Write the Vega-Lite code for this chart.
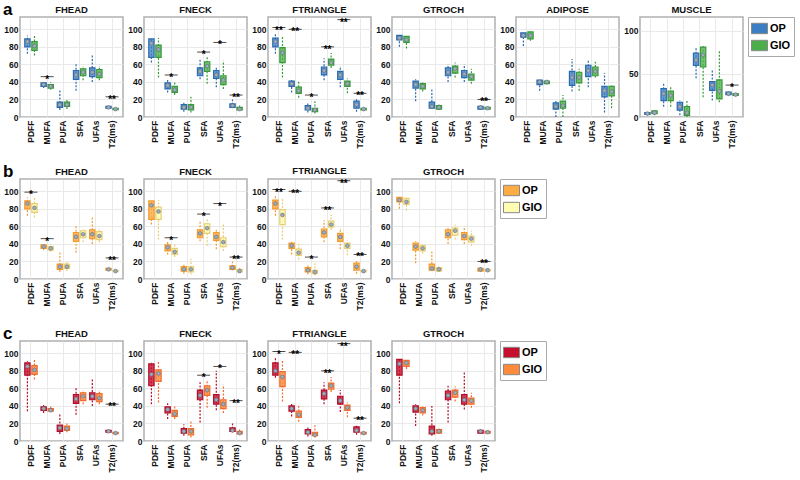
{
"$schema": "https://vega.github.io/schema/vega-lite/v6.json",
"padding": {"left": 3, "top": 0, "right": 0, "bottom": 0},
"background": "white",
"config": {
  "font": "Liberation Sans",
  "view": {"stroke": "#b0b0b0", "strokeWidth": 1.5},
  "title": {"fontSize": 9.5, "fontWeight": "bold", "offset": 3, "color": "#111"},
  "axis": {"labelFontSize": 8.5, "labelFontWeight": "bold", "labelColor": "#111", "ticks": false, "domain": false, "grid": true, "gridColor": "#e3e3e3", "gridWidth": 0.8, "labelPadding": 2},
  "axisX": {"labelAngle": -90, "labelPadding": 3},
  "legend": {"symbolType": "M-1,-0.65H1V0.65H-1Z", "symbolSize": 256, "symbolStrokeColor": "#888", "symbolStrokeWidth": 1, "symbolOpacity": 1, "labelFontSize": 11, "labelFontWeight": "bold", "labelColor": "#000", "strokeColor": "#aaa", "padding": 3, "rowPadding": 1, "offset": 4, "labelOffset": 2}
},
"datasets": {
"a": [
{"p":"FHEAD","c":"PDFF","g":"OP","lo":72,"q1":80,"md":86,"q3":89,"hi":93},
{"p":"FHEAD","c":"PDFF","g":"GIO","lo":70,"q1":76,"md":81,"q3":86,"hi":93},
{"p":"FHEAD","c":"MUFA","g":"OP","lo":33,"q1":35,"md":37,"q3":39,"hi":41},
{"p":"FHEAD","c":"MUFA","g":"GIO","lo":31,"q1":33,"md":35,"q3":37,"hi":40},
{"p":"FHEAD","c":"PUFA","g":"OP","lo":8,"q1":11,"md":14,"q3":17,"hi":31},
{"p":"FHEAD","c":"PUFA","g":"GIO","lo":9,"q1":12,"md":14,"q3":17,"hi":20},
{"p":"FHEAD","c":"SFA","g":"OP","lo":30,"q1":43,"md":48,"q3":53,"hi":60},
{"p":"FHEAD","c":"SFA","g":"GIO","lo":42,"q1":47,"md":51,"q3":55,"hi":58},
{"p":"FHEAD","c":"UFAs","g":"OP","lo":40,"q1":46,"md":51,"q3":56,"hi":70},
{"p":"FHEAD","c":"UFAs","g":"GIO","lo":42,"q1":45,"md":49,"q3":54,"hi":58},
{"p":"FHEAD","c":"T2(ms)","g":"OP","lo":9,"q1":10,"md":11,"q3":12,"hi":13},
{"p":"FHEAD","c":"T2(ms)","g":"GIO","lo":8,"q1":8.5,"md":9,"q3":10,"hi":10.5},
{"p":"FNECK","c":"PDFF","g":"OP","lo":62,"q1":68,"md":84,"q3":89,"hi":90},
{"p":"FNECK","c":"PDFF","g":"GIO","lo":45,"q1":68,"md":77,"q3":82,"hi":90},
{"p":"FNECK","c":"MUFA","g":"OP","lo":28,"q1":32,"md":36,"q3":39,"hi":43},
{"p":"FNECK","c":"MUFA","g":"GIO","lo":25,"q1":28,"md":31,"q3":35,"hi":41},
{"p":"FNECK","c":"PUFA","g":"OP","lo":6,"q1":9,"md":11,"q3":14,"hi":17},
{"p":"FNECK","c":"PUFA","g":"GIO","lo":5,"q1":8,"md":11,"q3":14,"hi":23},
{"p":"FNECK","c":"SFA","g":"OP","lo":43,"q1":47,"md":52,"q3":56,"hi":67},
{"p":"FNECK","c":"SFA","g":"GIO","lo":38,"q1":52,"md":58,"q3":63,"hi":68},
{"p":"FNECK","c":"UFAs","g":"OP","lo":34,"q1":44,"md":48,"q3":53,"hi":57},
{"p":"FNECK","c":"UFAs","g":"GIO","lo":32,"q1":37,"md":42,"q3":47,"hi":64},
{"p":"FNECK","c":"T2(ms)","g":"OP","lo":10,"q1":11,"md":13,"q3":15,"hi":20},
{"p":"FNECK","c":"T2(ms)","g":"GIO","lo":7,"q1":8,"md":9,"q3":11,"hi":13},
{"p":"FTRIANGLE","c":"PDFF","g":"OP","lo":72,"q1":80,"md":86,"q3":90,"hi":95},
{"p":"FTRIANGLE","c":"PDFF","g":"GIO","lo":45,"q1":62,"md":73,"q3":79,"hi":93},
{"p":"FTRIANGLE","c":"MUFA","g":"OP","lo":28,"q1":35,"md":38,"q3":41,"hi":43},
{"p":"FTRIANGLE","c":"MUFA","g":"GIO","lo":22,"q1":27,"md":30,"q3":34,"hi":41},
{"p":"FTRIANGLE","c":"PUFA","g":"OP","lo":5,"q1":8,"md":10,"q3":13,"hi":16},
{"p":"FTRIANGLE","c":"PUFA","g":"GIO","lo":4,"q1":6,"md":8,"q3":10,"hi":18},
{"p":"FTRIANGLE","c":"SFA","g":"OP","lo":42,"q1":48,"md":53,"q3":57,"hi":67},
{"p":"FTRIANGLE","c":"SFA","g":"GIO","lo":56,"q1":59,"md":62,"q3":66,"hi":73},
{"p":"FTRIANGLE","c":"UFAs","g":"OP","lo":34,"q1":43,"md":48,"q3":52,"hi":58},
{"p":"FTRIANGLE","c":"UFAs","g":"GIO","lo":27,"q1":35,"md":38,"q3":41,"hi":44},
{"p":"FTRIANGLE","c":"T2(ms)","g":"OP","lo":6,"q1":10,"md":14,"q3":18,"hi":21},
{"p":"FTRIANGLE","c":"T2(ms)","g":"GIO","lo":7,"q1":8,"md":9,"q3":10,"hi":10.5},
{"p":"GTROCH","c":"PDFF","g":"OP","lo":80,"q1":88,"md":90,"q3":93,"hi":93.5},
{"p":"GTROCH","c":"PDFF","g":"GIO","lo":78,"q1":85,"md":88,"q3":92,"hi":92.5},
{"p":"GTROCH","c":"MUFA","g":"OP","lo":18,"q1":33,"md":37,"q3":41,"hi":43},
{"p":"GTROCH","c":"MUFA","g":"GIO","lo":29,"q1":32,"md":35,"q3":38,"hi":41},
{"p":"GTROCH","c":"PUFA","g":"OP","lo":9,"q1":10,"md":12,"q3":17,"hi":32},
{"p":"GTROCH","c":"PUFA","g":"GIO","lo":8,"q1":9,"md":11,"q3":13,"hi":16},
{"p":"GTROCH","c":"SFA","g":"OP","lo":40,"q1":47,"md":51,"q3":56,"hi":60},
{"p":"GTROCH","c":"SFA","g":"GIO","lo":45,"q1":50,"md":55,"q3":58,"hi":62},
{"p":"GTROCH","c":"UFAs","g":"OP","lo":40,"q1":45,"md":49,"q3":53,"hi":60},
{"p":"GTROCH","c":"UFAs","g":"GIO","lo":38,"q1":42,"md":46,"q3":49,"hi":55},
{"p":"GTROCH","c":"T2(ms)","g":"OP","lo":8,"q1":9,"md":11,"q3":12,"hi":13},
{"p":"GTROCH","c":"T2(ms)","g":"GIO","lo":8,"q1":9,"md":10,"q3":11,"hi":11.5},
{"p":"ADIPOSE","c":"PDFF","g":"OP","lo":81,"q1":91,"md":93,"q3":96,"hi":96.5},
{"p":"ADIPOSE","c":"PDFF","g":"GIO","lo":87,"q1":89,"md":93,"q3":97,"hi":98},
{"p":"ADIPOSE","c":"MUFA","g":"OP","lo":30,"q1":37,"md":40,"q3":42,"hi":42.5},
{"p":"ADIPOSE","c":"MUFA","g":"GIO","lo":37,"q1":38,"md":40,"q3":41,"hi":42},
{"p":"ADIPOSE","c":"PUFA","g":"OP","lo":0,"q1":9,"md":12,"q3":16,"hi":20},
{"p":"ADIPOSE","c":"PUFA","g":"GIO","lo":0,"q1":10,"md":13,"q3":18,"hi":25},
{"p":"ADIPOSE","c":"SFA","g":"OP","lo":29,"q1":36,"md":45,"q3":52,"hi":66},
{"p":"ADIPOSE","c":"SFA","g":"GIO","lo":30,"q1":39,"md":45,"q3":51,"hi":55},
{"p":"ADIPOSE","c":"UFAs","g":"OP","lo":34,"q1":46,"md":53,"q3":59,"hi":64},
{"p":"ADIPOSE","c":"UFAs","g":"GIO","lo":45,"q1":47,"md":52,"q3":57,"hi":63},
{"p":"ADIPOSE","c":"T2(ms)","g":"OP","lo":5,"q1":23,"md":30,"q3":35,"hi":50},
{"p":"ADIPOSE","c":"T2(ms)","g":"GIO","lo":10,"q1":24,"md":29,"q3":35,"hi":36},
{"p":"MUSCLE","c":"PDFF","g":"OP","lo":2,"q1":3,"md":4,"q3":5,"hi":6},
{"p":"MUSCLE","c":"PDFF","g":"GIO","lo":2,"q1":4,"md":5,"q3":7,"hi":8},
{"p":"MUSCLE","c":"MUFA","g":"OP","lo":12,"q1":19,"md":27,"q3":33,"hi":39},
{"p":"MUSCLE","c":"MUFA","g":"GIO","lo":12,"q1":19,"md":25,"q3":30,"hi":36},
{"p":"MUSCLE","c":"PUFA","g":"OP","lo":2,"q1":8,"md":12,"q3":17,"hi":19},
{"p":"MUSCLE","c":"PUFA","g":"GIO","lo":0,"q1":2,"md":5,"q3":12,"hi":19},
{"p":"MUSCLE","c":"SFA","g":"OP","lo":45,"q1":60,"md":66,"q3":74,"hi":81},
{"p":"MUSCLE","c":"SFA","g":"GIO","lo":23,"q1":58,"md":72,"q3":81,"hi":83},
{"p":"MUSCLE","c":"UFAs","g":"OP","lo":19,"q1":31,"md":37,"q3":41,"hi":54},
{"p":"MUSCLE","c":"UFAs","g":"GIO","lo":17,"q1":21,"md":30,"q3":43,"hi":77},
{"p":"MUSCLE","c":"T2(ms)","g":"OP","lo":25,"q1":26,"md":27,"q3":29,"hi":29.5},
{"p":"MUSCLE","c":"T2(ms)","g":"GIO","lo":24,"q1":25,"md":26,"q3":27,"hi":28}
],
"c": [
{"p":"FHEAD","c":"PDFF","g":"OP","lo":34,"q1":75,"md":85,"q3":89,"hi":91},
{"p":"FHEAD","c":"PDFF","g":"GIO","lo":70,"q1":76,"md":81,"q3":86,"hi":93},
{"p":"FHEAD","c":"MUFA","g":"OP","lo":32,"q1":35,"md":37,"q3":39,"hi":41},
{"p":"FHEAD","c":"MUFA","g":"GIO","lo":33,"q1":34,"md":35,"q3":37,"hi":40},
{"p":"FHEAD","c":"PUFA","g":"OP","lo":8,"q1":11,"md":15,"q3":18,"hi":31},
{"p":"FHEAD","c":"PUFA","g":"GIO","lo":10,"q1":12,"md":14,"q3":17,"hi":20},
{"p":"FHEAD","c":"SFA","g":"OP","lo":30,"q1":43,"md":48,"q3":53,"hi":60},
{"p":"FHEAD","c":"SFA","g":"GIO","lo":42,"q1":46,"md":51,"q3":55,"hi":58},
{"p":"FHEAD","c":"UFAs","g":"OP","lo":40,"q1":47,"md":51,"q3":55,"hi":70},
{"p":"FHEAD","c":"UFAs","g":"GIO","lo":42,"q1":45,"md":49,"q3":54,"hi":58},
{"p":"FHEAD","c":"T2(ms)","g":"OP","lo":9,"q1":10,"md":11,"q3":12,"hi":13},
{"p":"FHEAD","c":"T2(ms)","g":"GIO","lo":8,"q1":8.5,"md":9,"q3":10,"hi":10.5},
{"p":"FNECK","c":"PDFF","g":"OP","lo":42,"q1":63,"md":76,"q3":88,"hi":90},
{"p":"FNECK","c":"PDFF","g":"GIO","lo":44,"q1":68,"md":77,"q3":81,"hi":90},
{"p":"FNECK","c":"MUFA","g":"OP","lo":25,"q1":32,"md":36,"q3":39,"hi":43},
{"p":"FNECK","c":"MUFA","g":"GIO","lo":25,"q1":28,"md":31,"q3":35,"hi":41},
{"p":"FNECK","c":"PUFA","g":"OP","lo":6,"q1":9,"md":11,"q3":14,"hi":19},
{"p":"FNECK","c":"PUFA","g":"GIO","lo":4,"q1":7,"md":11,"q3":14,"hi":24},
{"p":"FNECK","c":"SFA","g":"OP","lo":21,"q1":47,"md":52,"q3":58,"hi":67},
{"p":"FNECK","c":"SFA","g":"GIO","lo":38,"q1":52,"md":58,"q3":63,"hi":68},
{"p":"FNECK","c":"UFAs","g":"OP","lo":35,"q1":42,"md":47,"q3":53,"hi":80},
{"p":"FNECK","c":"UFAs","g":"GIO","lo":32,"q1":37,"md":42,"q3":47,"hi":64},
{"p":"FNECK","c":"T2(ms)","g":"OP","lo":10,"q1":11,"md":12,"q3":15,"hi":20},
{"p":"FNECK","c":"T2(ms)","g":"GIO","lo":7,"q1":8,"md":9,"q3":11,"hi":13},
{"p":"FTRIANGLE","c":"PDFF","g":"OP","lo":72,"q1":75,"md":80,"q3":89,"hi":95},
{"p":"FTRIANGLE","c":"PDFF","g":"GIO","lo":45,"q1":62,"md":73,"q3":79,"hi":93},
{"p":"FTRIANGLE","c":"MUFA","g":"OP","lo":28,"q1":34,"md":37,"q3":40,"hi":43},
{"p":"FTRIANGLE","c":"MUFA","g":"GIO","lo":22,"q1":27,"md":30,"q3":34,"hi":41},
{"p":"FTRIANGLE","c":"PUFA","g":"OP","lo":5,"q1":8,"md":10,"q3":13,"hi":16},
{"p":"FTRIANGLE","c":"PUFA","g":"GIO","lo":4,"q1":6,"md":7,"q3":10,"hi":18},
{"p":"FTRIANGLE","c":"SFA","g":"OP","lo":42,"q1":48,"md":54,"q3":58,"hi":67},
{"p":"FTRIANGLE","c":"SFA","g":"GIO","lo":56,"q1":59,"md":63,"q3":66,"hi":73},
{"p":"FTRIANGLE","c":"UFAs","g":"OP","lo":33,"q1":42,"md":46,"q3":51,"hi":58},
{"p":"FTRIANGLE","c":"UFAs","g":"GIO","lo":27,"q1":35,"md":38,"q3":41,"hi":44},
{"p":"FTRIANGLE","c":"T2(ms)","g":"OP","lo":7,"q1":10,"md":12,"q3":16,"hi":18},
{"p":"FTRIANGLE","c":"T2(ms)","g":"GIO","lo":7,"q1":8,"md":9,"q3":10,"hi":10.5},
{"p":"GTROCH","c":"PDFF","g":"OP","lo":43,"q1":75,"md":88,"q3":93,"hi":93.5},
{"p":"GTROCH","c":"PDFF","g":"GIO","lo":82,"q1":85,"md":89,"q3":92,"hi":92.5},
{"p":"GTROCH","c":"MUFA","g":"OP","lo":17,"q1":33,"md":37,"q3":40,"hi":42},
{"p":"GTROCH","c":"MUFA","g":"GIO","lo":29,"q1":32,"md":35,"q3":38,"hi":41},
{"p":"GTROCH","c":"PUFA","g":"OP","lo":6,"q1":8,"md":11,"q3":17,"hi":40},
{"p":"GTROCH","c":"PUFA","g":"GIO","lo":8,"q1":9,"md":11,"q3":13,"hi":16},
{"p":"GTROCH","c":"SFA","g":"OP","lo":21,"q1":47,"md":52,"q3":57,"hi":63},
{"p":"GTROCH","c":"SFA","g":"GIO","lo":45,"q1":50,"md":55,"q3":58,"hi":62},
{"p":"GTROCH","c":"UFAs","g":"OP","lo":36,"q1":42,"md":47,"q3":53,"hi":79},
{"p":"GTROCH","c":"UFAs","g":"GIO","lo":38,"q1":42,"md":46,"q3":49,"hi":55},
{"p":"GTROCH","c":"T2(ms)","g":"OP","lo":8,"q1":9,"md":11,"q3":12,"hi":13},
{"p":"GTROCH","c":"T2(ms)","g":"GIO","lo":8,"q1":9,"md":10,"q3":11,"hi":11.5}
],
"sa": [
{"p":"FHEAD","c":"MUFA","v":46,"s":"*"},
{"p":"FHEAD","c":"T2(ms)","v":23,"s":"**"},
{"p":"FNECK","c":"MUFA","v":48,"s":"*"},
{"p":"FNECK","c":"SFA","v":74,"s":"*"},
{"p":"FNECK","c":"UFAs","v":85,"s":"*"},
{"p":"FNECK","c":"T2(ms)","v":25,"s":"**"},
{"p":"FTRIANGLE","c":"PDFF","v":102,"s":"**"},
{"p":"FTRIANGLE","c":"MUFA","v":100,"s":"**"},
{"p":"FTRIANGLE","c":"PUFA","v":25,"s":"*"},
{"p":"FTRIANGLE","c":"SFA","v":80,"s":"**"},
{"p":"FTRIANGLE","c":"UFAs","v":111,"s":"**"},
{"p":"FTRIANGLE","c":"T2(ms)","v":27,"s":"**"},
{"p":"GTROCH","c":"T2(ms)","v":20,"s":"**"},
{"p":"MUSCLE","c":"T2(ms)","v":37,"s":"*"}
],
"sb": [
{"p":"FHEAD","c":"PDFF","v":99,"s":"*"},
{"p":"FHEAD","c":"MUFA","v":46,"s":"*"},
{"p":"FHEAD","c":"T2(ms)","v":24,"s":"**"},
{"p":"FNECK","c":"MUFA","v":47,"s":"*"},
{"p":"FNECK","c":"SFA","v":74,"s":"*"},
{"p":"FNECK","c":"UFAs","v":86,"s":"*"},
{"p":"FNECK","c":"T2(ms)","v":25,"s":"**"},
{"p":"FTRIANGLE","c":"PDFF","v":102,"s":"**"},
{"p":"FTRIANGLE","c":"MUFA","v":100,"s":"**"},
{"p":"FTRIANGLE","c":"PUFA","v":25,"s":"*"},
{"p":"FTRIANGLE","c":"SFA","v":81,"s":"**"},
{"p":"FTRIANGLE","c":"UFAs","v":112,"s":"**"},
{"p":"FTRIANGLE","c":"T2(ms)","v":28,"s":"**"},
{"p":"GTROCH","c":"T2(ms)","v":20,"s":"**"}
],
"sc": [
{"p":"FHEAD","c":"T2(ms)","v":42,"s":"**"},
{"p":"FNECK","c":"SFA","v":75,"s":"*"},
{"p":"FNECK","c":"UFAs","v":85,"s":"*"},
{"p":"FNECK","c":"T2(ms)","v":46,"s":"**"},
{"p":"FTRIANGLE","c":"PDFF","v":102,"s":"*"},
{"p":"FTRIANGLE","c":"MUFA","v":101,"s":"**"},
{"p":"FTRIANGLE","c":"SFA","v":80,"s":"**"},
{"p":"FTRIANGLE","c":"UFAs","v":111,"s":"**"},
{"p":"FTRIANGLE","c":"T2(ms)","v":26,"s":"**"}
]
},
"resolve": {"scale": {"color": "independent"}},
"spacing": 13,
"vconcat": [
{"spacing": 3, "title": {"text": "a", "anchor": "start", "offset": -15, "fontSize": 17, "fontWeight": "bold", "color": "#000"}, "hconcat": [
{"width":103,"height":100,"title":"FHEAD","data":{"name":"a"},"transform":[{"filter":"datum.p=='FHEAD'"}],
"encoding":{"x":{"field":"c","type":"nominal","scale":{"domain":["PDFF","MUFA","PUFA","SFA","UFAs","T2(ms)"],"paddingInner":0.15,"paddingOuter":0.25},"axis":{"title":null,"bandPosition":0.5}}},
"layer":[
{"mark":{"type":"rule","strokeDash":[2,1.5],"strokeWidth":1.2},"encoding":{"xOffset":{"field":"g","type":"nominal","scale":{"domain":["OP","GIO"],"paddingInner":0.25,"paddingOuter":0.1}},"y":{"field":"lo","type":"quantitative","scale":{"domain":[0,114],"nice":false},"axis":{"title":null,"values":[0,20,40,60,80,100]}},"y2":{"field":"hi"},"color":{"condition":{"test":"datum.g=='OP'","value":"#2a6ab0"},"value":"#379a38"}}},
{"mark":{"type":"bar","fillOpacity":0.75,"strokeWidth":1.2},"encoding":{"xOffset":{"field":"g","type":"nominal"},"y":{"field":"q1","type":"quantitative","axis":{"title":null,"values":[0,20,40,60,80,100]}},"y2":{"field":"q3"},"color":{"field":"g","type":"nominal","scale":{"domain":["OP","GIO"],"range":["#3b7ec4","#4bae4a"]},"legend":{"title":null}},"stroke":{"condition":{"test":"datum.g=='OP'","value":"#2a6ab0"},"value":"#379a38"}}},
{"mark":{"type":"point","filled":true,"shape":"circle","size":14,"fill":"#a0acba","stroke":"#5d6d7e","strokeWidth":0.6,"opacity":1},"encoding":{"xOffset":{"field":"g","type":"nominal"},"y":{"field":"md","type":"quantitative","axis":{"title":null,"values":[0,20,40,60,80,100]}}}},
{"data":{"name":"sa"},"transform":[{"filter":"datum.p=='FHEAD'"}],"mark":{"type":"tick","size":13,"thickness":1,"color":"#000"},"encoding":{"y":{"field":"v","type":"quantitative","axis":{"title":null,"values":[0,20,40,60,80,100]}}}},
{"data":{"name":"sa"},"transform":[{"filter":"datum.p=='FHEAD'"}],"mark":{"type":"text","fontSize":10,"fontWeight":"bold","baseline":"middle","dy":3,"color":"#000"},"encoding":{"y":{"field":"v","type":"quantitative","axis":{"title":null,"values":[0,20,40,60,80,100]}},"text":{"field":"s"}}}
]},
{"width":103,"height":100,"title":"FNECK","data":{"name":"a"},"transform":[{"filter":"datum.p=='FNECK'"}],
"encoding":{"x":{"field":"c","type":"nominal","scale":{"domain":["PDFF","MUFA","PUFA","SFA","UFAs","T2(ms)"],"paddingInner":0.15,"paddingOuter":0.25},"axis":{"title":null,"bandPosition":0.5}}},
"layer":[
{"mark":{"type":"rule","strokeDash":[2,1.5],"strokeWidth":1.2},"encoding":{"xOffset":{"field":"g","type":"nominal","scale":{"domain":["OP","GIO"],"paddingInner":0.25,"paddingOuter":0.1}},"y":{"field":"lo","type":"quantitative","scale":{"domain":[0,114],"nice":false},"axis":{"title":null,"values":[0,20,40,60,80,100]}},"y2":{"field":"hi"},"color":{"condition":{"test":"datum.g=='OP'","value":"#2a6ab0"},"value":"#379a38"}}},
{"mark":{"type":"bar","fillOpacity":0.75,"strokeWidth":1.2},"encoding":{"xOffset":{"field":"g","type":"nominal"},"y":{"field":"q1","type":"quantitative","axis":{"title":null,"values":[0,20,40,60,80,100]}},"y2":{"field":"q3"},"color":{"field":"g","type":"nominal","scale":{"domain":["OP","GIO"],"range":["#3b7ec4","#4bae4a"]},"legend":{"title":null}},"stroke":{"condition":{"test":"datum.g=='OP'","value":"#2a6ab0"},"value":"#379a38"}}},
{"mark":{"type":"point","filled":true,"shape":"circle","size":14,"fill":"#a0acba","stroke":"#5d6d7e","strokeWidth":0.6,"opacity":1},"encoding":{"xOffset":{"field":"g","type":"nominal"},"y":{"field":"md","type":"quantitative","axis":{"title":null,"values":[0,20,40,60,80,100]}}}},
{"data":{"name":"sa"},"transform":[{"filter":"datum.p=='FNECK'"}],"mark":{"type":"tick","size":13,"thickness":1,"color":"#000"},"encoding":{"y":{"field":"v","type":"quantitative","axis":{"title":null,"values":[0,20,40,60,80,100]}}}},
{"data":{"name":"sa"},"transform":[{"filter":"datum.p=='FNECK'"}],"mark":{"type":"text","fontSize":10,"fontWeight":"bold","baseline":"middle","dy":3,"color":"#000"},"encoding":{"y":{"field":"v","type":"quantitative","axis":{"title":null,"values":[0,20,40,60,80,100]}},"text":{"field":"s"}}}
]},
{"width":103,"height":100,"title":"FTRIANGLE","data":{"name":"a"},"transform":[{"filter":"datum.p=='FTRIANGLE'"}],
"encoding":{"x":{"field":"c","type":"nominal","scale":{"domain":["PDFF","MUFA","PUFA","SFA","UFAs","T2(ms)"],"paddingInner":0.15,"paddingOuter":0.25},"axis":{"title":null,"bandPosition":0.5}}},
"layer":[
{"mark":{"type":"rule","strokeDash":[2,1.5],"strokeWidth":1.2},"encoding":{"xOffset":{"field":"g","type":"nominal","scale":{"domain":["OP","GIO"],"paddingInner":0.25,"paddingOuter":0.1}},"y":{"field":"lo","type":"quantitative","scale":{"domain":[0,114],"nice":false},"axis":{"title":null,"values":[0,20,40,60,80,100]}},"y2":{"field":"hi"},"color":{"condition":{"test":"datum.g=='OP'","value":"#2a6ab0"},"value":"#379a38"}}},
{"mark":{"type":"bar","fillOpacity":0.75,"strokeWidth":1.2},"encoding":{"xOffset":{"field":"g","type":"nominal"},"y":{"field":"q1","type":"quantitative","axis":{"title":null,"values":[0,20,40,60,80,100]}},"y2":{"field":"q3"},"color":{"field":"g","type":"nominal","scale":{"domain":["OP","GIO"],"range":["#3b7ec4","#4bae4a"]},"legend":{"title":null}},"stroke":{"condition":{"test":"datum.g=='OP'","value":"#2a6ab0"},"value":"#379a38"}}},
{"mark":{"type":"point","filled":true,"shape":"circle","size":14,"fill":"#a0acba","stroke":"#5d6d7e","strokeWidth":0.6,"opacity":1},"encoding":{"xOffset":{"field":"g","type":"nominal"},"y":{"field":"md","type":"quantitative","axis":{"title":null,"values":[0,20,40,60,80,100]}}}},
{"data":{"name":"sa"},"transform":[{"filter":"datum.p=='FTRIANGLE'"}],"mark":{"type":"tick","size":13,"thickness":1,"color":"#000"},"encoding":{"y":{"field":"v","type":"quantitative","axis":{"title":null,"values":[0,20,40,60,80,100]}}}},
{"data":{"name":"sa"},"transform":[{"filter":"datum.p=='FTRIANGLE'"}],"mark":{"type":"text","fontSize":10,"fontWeight":"bold","baseline":"middle","dy":3,"color":"#000"},"encoding":{"y":{"field":"v","type":"quantitative","axis":{"title":null,"values":[0,20,40,60,80,100]}},"text":{"field":"s"}}}
]},
{"width":103,"height":100,"title":"GTROCH","data":{"name":"a"},"transform":[{"filter":"datum.p=='GTROCH'"}],
"encoding":{"x":{"field":"c","type":"nominal","scale":{"domain":["PDFF","MUFA","PUFA","SFA","UFAs","T2(ms)"],"paddingInner":0.15,"paddingOuter":0.25},"axis":{"title":null,"bandPosition":0.5}}},
"layer":[
{"mark":{"type":"rule","strokeDash":[2,1.5],"strokeWidth":1.2},"encoding":{"xOffset":{"field":"g","type":"nominal","scale":{"domain":["OP","GIO"],"paddingInner":0.25,"paddingOuter":0.1}},"y":{"field":"lo","type":"quantitative","scale":{"domain":[0,114],"nice":false},"axis":{"title":null,"values":[0,20,40,60,80,100]}},"y2":{"field":"hi"},"color":{"condition":{"test":"datum.g=='OP'","value":"#2a6ab0"},"value":"#379a38"}}},
{"mark":{"type":"bar","fillOpacity":0.75,"strokeWidth":1.2},"encoding":{"xOffset":{"field":"g","type":"nominal"},"y":{"field":"q1","type":"quantitative","axis":{"title":null,"values":[0,20,40,60,80,100]}},"y2":{"field":"q3"},"color":{"field":"g","type":"nominal","scale":{"domain":["OP","GIO"],"range":["#3b7ec4","#4bae4a"]},"legend":{"title":null}},"stroke":{"condition":{"test":"datum.g=='OP'","value":"#2a6ab0"},"value":"#379a38"}}},
{"mark":{"type":"point","filled":true,"shape":"circle","size":14,"fill":"#a0acba","stroke":"#5d6d7e","strokeWidth":0.6,"opacity":1},"encoding":{"xOffset":{"field":"g","type":"nominal"},"y":{"field":"md","type":"quantitative","axis":{"title":null,"values":[0,20,40,60,80,100]}}}},
{"data":{"name":"sa"},"transform":[{"filter":"datum.p=='GTROCH'"}],"mark":{"type":"tick","size":13,"thickness":1,"color":"#000"},"encoding":{"y":{"field":"v","type":"quantitative","axis":{"title":null,"values":[0,20,40,60,80,100]}}}},
{"data":{"name":"sa"},"transform":[{"filter":"datum.p=='GTROCH'"}],"mark":{"type":"text","fontSize":10,"fontWeight":"bold","baseline":"middle","dy":3,"color":"#000"},"encoding":{"y":{"field":"v","type":"quantitative","axis":{"title":null,"values":[0,20,40,60,80,100]}},"text":{"field":"s"}}}
]},
{"width":103,"height":100,"title":"ADIPOSE","data":{"name":"a"},"transform":[{"filter":"datum.p=='ADIPOSE'"}],
"encoding":{"x":{"field":"c","type":"nominal","scale":{"domain":["PDFF","MUFA","PUFA","SFA","UFAs","T2(ms)"],"paddingInner":0.15,"paddingOuter":0.25},"axis":{"title":null,"bandPosition":0.5}}},
"layer":[
{"mark":{"type":"rule","strokeDash":[2,1.5],"strokeWidth":1.2},"encoding":{"xOffset":{"field":"g","type":"nominal","scale":{"domain":["OP","GIO"],"paddingInner":0.25,"paddingOuter":0.1}},"y":{"field":"lo","type":"quantitative","scale":{"domain":[0,114],"nice":false},"axis":{"title":null,"values":[0,20,40,60,80,100]}},"y2":{"field":"hi"},"color":{"condition":{"test":"datum.g=='OP'","value":"#2a6ab0"},"value":"#379a38"}}},
{"mark":{"type":"bar","fillOpacity":0.75,"strokeWidth":1.2},"encoding":{"xOffset":{"field":"g","type":"nominal"},"y":{"field":"q1","type":"quantitative","axis":{"title":null,"values":[0,20,40,60,80,100]}},"y2":{"field":"q3"},"color":{"field":"g","type":"nominal","scale":{"domain":["OP","GIO"],"range":["#3b7ec4","#4bae4a"]},"legend":{"title":null}},"stroke":{"condition":{"test":"datum.g=='OP'","value":"#2a6ab0"},"value":"#379a38"}}},
{"mark":{"type":"point","filled":true,"shape":"circle","size":14,"fill":"#a0acba","stroke":"#5d6d7e","strokeWidth":0.6,"opacity":1},"encoding":{"xOffset":{"field":"g","type":"nominal"},"y":{"field":"md","type":"quantitative","axis":{"title":null,"values":[0,20,40,60,80,100]}}}}
]},
{"width":103,"height":100,"title":"MUSCLE","data":{"name":"a"},"transform":[{"filter":"datum.p=='MUSCLE'"}],
"encoding":{"x":{"field":"c","type":"nominal","scale":{"domain":["PDFF","MUFA","PUFA","SFA","UFAs","T2(ms)"],"paddingInner":0.15,"paddingOuter":0.25},"axis":{"title":null,"bandPosition":0.5}}},
"layer":[
{"mark":{"type":"rule","strokeDash":[2,1.5],"strokeWidth":1.2},"encoding":{"xOffset":{"field":"g","type":"nominal","scale":{"domain":["OP","GIO"],"paddingInner":0.25,"paddingOuter":0.1}},"y":{"field":"lo","type":"quantitative","scale":{"domain":[0,116],"nice":false},"axis":{"title":null,"values":[0,50,100]}},"y2":{"field":"hi"},"color":{"condition":{"test":"datum.g=='OP'","value":"#2a6ab0"},"value":"#379a38"}}},
{"mark":{"type":"bar","fillOpacity":0.75,"strokeWidth":1.2},"encoding":{"xOffset":{"field":"g","type":"nominal"},"y":{"field":"q1","type":"quantitative","axis":{"title":null,"values":[0,50,100]}},"y2":{"field":"q3"},"color":{"field":"g","type":"nominal","scale":{"domain":["OP","GIO"],"range":["#3b7ec4","#4bae4a"]},"legend":{"title":null}},"stroke":{"condition":{"test":"datum.g=='OP'","value":"#2a6ab0"},"value":"#379a38"}}},
{"mark":{"type":"point","filled":true,"shape":"circle","size":14,"fill":"#a0acba","stroke":"#5d6d7e","strokeWidth":0.6,"opacity":1},"encoding":{"xOffset":{"field":"g","type":"nominal"},"y":{"field":"md","type":"quantitative","axis":{"title":null,"values":[0,50,100]}}}},
{"data":{"name":"sa"},"transform":[{"filter":"datum.p=='MUSCLE'"}],"mark":{"type":"tick","size":13,"thickness":1,"color":"#000"},"encoding":{"y":{"field":"v","type":"quantitative","axis":{"title":null,"values":[0,50,100]}}}},
{"data":{"name":"sa"},"transform":[{"filter":"datum.p=='MUSCLE'"}],"mark":{"type":"text","fontSize":10,"fontWeight":"bold","baseline":"middle","dy":3,"color":"#000"},"encoding":{"y":{"field":"v","type":"quantitative","axis":{"title":null,"values":[0,50,100]}},"text":{"field":"s"}}}
]}
]},
{"spacing": 3, "title": {"text": "b", "anchor": "start", "offset": -15, "fontSize": 17, "fontWeight": "bold", "color": "#000"}, "hconcat": [
{"width":103,"height":100,"title":"FHEAD","data":{"name":"a"},"transform":[{"filter":"datum.p=='FHEAD'"}],
"encoding":{"x":{"field":"c","type":"nominal","scale":{"domain":["PDFF","MUFA","PUFA","SFA","UFAs","T2(ms)"],"paddingInner":0.15,"paddingOuter":0.25},"axis":{"title":null,"bandPosition":0.5}}},
"layer":[
{"mark":{"type":"rule","strokeDash":[2,1.5],"strokeWidth":1.2},"encoding":{"xOffset":{"field":"g","type":"nominal","scale":{"domain":["OP","GIO"],"paddingInner":0.25,"paddingOuter":0.1}},"y":{"field":"lo","type":"quantitative","scale":{"domain":[0,114],"nice":false},"axis":{"title":null,"values":[0,20,40,60,80,100]}},"y2":{"field":"hi"},"color":{"condition":{"test":"datum.g=='OP'","value":"#f39a2c"},"value":"#e8cd72"}}},
{"mark":{"type":"bar","fillOpacity":0.8,"strokeWidth":1.2},"encoding":{"xOffset":{"field":"g","type":"nominal"},"y":{"field":"q1","type":"quantitative","axis":{"title":null,"values":[0,20,40,60,80,100]}},"y2":{"field":"q3"},"color":{"field":"g","type":"nominal","scale":{"domain":["OP","GIO"],"range":["#fdac44","#fefcb0"]},"legend":{"title":null}},"stroke":{"condition":{"test":"datum.g=='OP'","value":"#f39a2c"},"value":"#e8cd72"}}},
{"mark":{"type":"point","filled":true,"shape":"circle","size":14,"fill":"#a0acba","stroke":"#5d6d7e","strokeWidth":0.6,"opacity":1},"encoding":{"xOffset":{"field":"g","type":"nominal"},"y":{"field":"md","type":"quantitative","axis":{"title":null,"values":[0,20,40,60,80,100]}}}},
{"data":{"name":"sb"},"transform":[{"filter":"datum.p=='FHEAD'"}],"mark":{"type":"tick","size":13,"thickness":1,"color":"#000"},"encoding":{"y":{"field":"v","type":"quantitative","axis":{"title":null,"values":[0,20,40,60,80,100]}}}},
{"data":{"name":"sb"},"transform":[{"filter":"datum.p=='FHEAD'"}],"mark":{"type":"text","fontSize":10,"fontWeight":"bold","baseline":"middle","dy":3,"color":"#000"},"encoding":{"y":{"field":"v","type":"quantitative","axis":{"title":null,"values":[0,20,40,60,80,100]}},"text":{"field":"s"}}}
]},
{"width":103,"height":100,"title":"FNECK","data":{"name":"a"},"transform":[{"filter":"datum.p=='FNECK'"}],
"encoding":{"x":{"field":"c","type":"nominal","scale":{"domain":["PDFF","MUFA","PUFA","SFA","UFAs","T2(ms)"],"paddingInner":0.15,"paddingOuter":0.25},"axis":{"title":null,"bandPosition":0.5}}},
"layer":[
{"mark":{"type":"rule","strokeDash":[2,1.5],"strokeWidth":1.2},"encoding":{"xOffset":{"field":"g","type":"nominal","scale":{"domain":["OP","GIO"],"paddingInner":0.25,"paddingOuter":0.1}},"y":{"field":"lo","type":"quantitative","scale":{"domain":[0,114],"nice":false},"axis":{"title":null,"values":[0,20,40,60,80,100]}},"y2":{"field":"hi"},"color":{"condition":{"test":"datum.g=='OP'","value":"#f39a2c"},"value":"#e8cd72"}}},
{"mark":{"type":"bar","fillOpacity":0.8,"strokeWidth":1.2},"encoding":{"xOffset":{"field":"g","type":"nominal"},"y":{"field":"q1","type":"quantitative","axis":{"title":null,"values":[0,20,40,60,80,100]}},"y2":{"field":"q3"},"color":{"field":"g","type":"nominal","scale":{"domain":["OP","GIO"],"range":["#fdac44","#fefcb0"]},"legend":{"title":null}},"stroke":{"condition":{"test":"datum.g=='OP'","value":"#f39a2c"},"value":"#e8cd72"}}},
{"mark":{"type":"point","filled":true,"shape":"circle","size":14,"fill":"#a0acba","stroke":"#5d6d7e","strokeWidth":0.6,"opacity":1},"encoding":{"xOffset":{"field":"g","type":"nominal"},"y":{"field":"md","type":"quantitative","axis":{"title":null,"values":[0,20,40,60,80,100]}}}},
{"data":{"name":"sb"},"transform":[{"filter":"datum.p=='FNECK'"}],"mark":{"type":"tick","size":13,"thickness":1,"color":"#000"},"encoding":{"y":{"field":"v","type":"quantitative","axis":{"title":null,"values":[0,20,40,60,80,100]}}}},
{"data":{"name":"sb"},"transform":[{"filter":"datum.p=='FNECK'"}],"mark":{"type":"text","fontSize":10,"fontWeight":"bold","baseline":"middle","dy":3,"color":"#000"},"encoding":{"y":{"field":"v","type":"quantitative","axis":{"title":null,"values":[0,20,40,60,80,100]}},"text":{"field":"s"}}}
]},
{"width":103,"height":100,"title":"FTRIANGLE","data":{"name":"a"},"transform":[{"filter":"datum.p=='FTRIANGLE'"}],
"encoding":{"x":{"field":"c","type":"nominal","scale":{"domain":["PDFF","MUFA","PUFA","SFA","UFAs","T2(ms)"],"paddingInner":0.15,"paddingOuter":0.25},"axis":{"title":null,"bandPosition":0.5}}},
"layer":[
{"mark":{"type":"rule","strokeDash":[2,1.5],"strokeWidth":1.2},"encoding":{"xOffset":{"field":"g","type":"nominal","scale":{"domain":["OP","GIO"],"paddingInner":0.25,"paddingOuter":0.1}},"y":{"field":"lo","type":"quantitative","scale":{"domain":[0,114],"nice":false},"axis":{"title":null,"values":[0,20,40,60,80,100]}},"y2":{"field":"hi"},"color":{"condition":{"test":"datum.g=='OP'","value":"#f39a2c"},"value":"#e8cd72"}}},
{"mark":{"type":"bar","fillOpacity":0.8,"strokeWidth":1.2},"encoding":{"xOffset":{"field":"g","type":"nominal"},"y":{"field":"q1","type":"quantitative","axis":{"title":null,"values":[0,20,40,60,80,100]}},"y2":{"field":"q3"},"color":{"field":"g","type":"nominal","scale":{"domain":["OP","GIO"],"range":["#fdac44","#fefcb0"]},"legend":{"title":null}},"stroke":{"condition":{"test":"datum.g=='OP'","value":"#f39a2c"},"value":"#e8cd72"}}},
{"mark":{"type":"point","filled":true,"shape":"circle","size":14,"fill":"#a0acba","stroke":"#5d6d7e","strokeWidth":0.6,"opacity":1},"encoding":{"xOffset":{"field":"g","type":"nominal"},"y":{"field":"md","type":"quantitative","axis":{"title":null,"values":[0,20,40,60,80,100]}}}},
{"data":{"name":"sb"},"transform":[{"filter":"datum.p=='FTRIANGLE'"}],"mark":{"type":"tick","size":13,"thickness":1,"color":"#000"},"encoding":{"y":{"field":"v","type":"quantitative","axis":{"title":null,"values":[0,20,40,60,80,100]}}}},
{"data":{"name":"sb"},"transform":[{"filter":"datum.p=='FTRIANGLE'"}],"mark":{"type":"text","fontSize":10,"fontWeight":"bold","baseline":"middle","dy":3,"color":"#000"},"encoding":{"y":{"field":"v","type":"quantitative","axis":{"title":null,"values":[0,20,40,60,80,100]}},"text":{"field":"s"}}}
]},
{"width":103,"height":100,"title":"GTROCH","data":{"name":"a"},"transform":[{"filter":"datum.p=='GTROCH'"}],
"encoding":{"x":{"field":"c","type":"nominal","scale":{"domain":["PDFF","MUFA","PUFA","SFA","UFAs","T2(ms)"],"paddingInner":0.15,"paddingOuter":0.25},"axis":{"title":null,"bandPosition":0.5}}},
"layer":[
{"mark":{"type":"rule","strokeDash":[2,1.5],"strokeWidth":1.2},"encoding":{"xOffset":{"field":"g","type":"nominal","scale":{"domain":["OP","GIO"],"paddingInner":0.25,"paddingOuter":0.1}},"y":{"field":"lo","type":"quantitative","scale":{"domain":[0,114],"nice":false},"axis":{"title":null,"values":[0,20,40,60,80,100]}},"y2":{"field":"hi"},"color":{"condition":{"test":"datum.g=='OP'","value":"#f39a2c"},"value":"#e8cd72"}}},
{"mark":{"type":"bar","fillOpacity":0.8,"strokeWidth":1.2},"encoding":{"xOffset":{"field":"g","type":"nominal"},"y":{"field":"q1","type":"quantitative","axis":{"title":null,"values":[0,20,40,60,80,100]}},"y2":{"field":"q3"},"color":{"field":"g","type":"nominal","scale":{"domain":["OP","GIO"],"range":["#fdac44","#fefcb0"]},"legend":{"title":null}},"stroke":{"condition":{"test":"datum.g=='OP'","value":"#f39a2c"},"value":"#e8cd72"}}},
{"mark":{"type":"point","filled":true,"shape":"circle","size":14,"fill":"#a0acba","stroke":"#5d6d7e","strokeWidth":0.6,"opacity":1},"encoding":{"xOffset":{"field":"g","type":"nominal"},"y":{"field":"md","type":"quantitative","axis":{"title":null,"values":[0,20,40,60,80,100]}}}},
{"data":{"name":"sb"},"transform":[{"filter":"datum.p=='GTROCH'"}],"mark":{"type":"tick","size":13,"thickness":1,"color":"#000"},"encoding":{"y":{"field":"v","type":"quantitative","axis":{"title":null,"values":[0,20,40,60,80,100]}}}},
{"data":{"name":"sb"},"transform":[{"filter":"datum.p=='GTROCH'"}],"mark":{"type":"text","fontSize":10,"fontWeight":"bold","baseline":"middle","dy":3,"color":"#000"},"encoding":{"y":{"field":"v","type":"quantitative","axis":{"title":null,"values":[0,20,40,60,80,100]}},"text":{"field":"s"}}}
]}
]},
{"spacing": 3, "title": {"text": "c", "anchor": "start", "offset": -15, "fontSize": 17, "fontWeight": "bold", "color": "#000"}, "hconcat": [
{"width":103,"height":100,"title":"FHEAD","data":{"name":"c"},"transform":[{"filter":"datum.p=='FHEAD'"}],
"encoding":{"x":{"field":"c","type":"nominal","scale":{"domain":["PDFF","MUFA","PUFA","SFA","UFAs","T2(ms)"],"paddingInner":0.15,"paddingOuter":0.25},"axis":{"title":null,"bandPosition":0.5}}},
"layer":[
{"mark":{"type":"rule","strokeDash":[2,1.5],"strokeWidth":1.2},"encoding":{"xOffset":{"field":"g","type":"nominal","scale":{"domain":["OP","GIO"],"paddingInner":0.25,"paddingOuter":0.1}},"y":{"field":"lo","type":"quantitative","scale":{"domain":[0,114],"nice":false},"axis":{"title":null,"values":[0,20,40,60,80,100]}},"y2":{"field":"hi"},"color":{"condition":{"test":"datum.g=='OP'","value":"#b50c27"},"value":"#f26b2a"}}},
{"mark":{"type":"bar","fillOpacity":0.8,"strokeWidth":1.2},"encoding":{"xOffset":{"field":"g","type":"nominal"},"y":{"field":"q1","type":"quantitative","axis":{"title":null,"values":[0,20,40,60,80,100]}},"y2":{"field":"q3"},"color":{"field":"g","type":"nominal","scale":{"domain":["OP","GIO"],"range":["#c60f2e","#fd8b3b"]},"legend":{"title":null}},"stroke":{"condition":{"test":"datum.g=='OP'","value":"#b50c27"},"value":"#f26b2a"}}},
{"mark":{"type":"point","filled":true,"shape":"circle","size":14,"fill":"#a0acba","stroke":"#5d6d7e","strokeWidth":0.6,"opacity":1},"encoding":{"xOffset":{"field":"g","type":"nominal"},"y":{"field":"md","type":"quantitative","axis":{"title":null,"values":[0,20,40,60,80,100]}}}},
{"data":{"name":"sc"},"transform":[{"filter":"datum.p=='FHEAD'"}],"mark":{"type":"tick","size":13,"thickness":1,"color":"#000"},"encoding":{"y":{"field":"v","type":"quantitative","axis":{"title":null,"values":[0,20,40,60,80,100]}}}},
{"data":{"name":"sc"},"transform":[{"filter":"datum.p=='FHEAD'"}],"mark":{"type":"text","fontSize":10,"fontWeight":"bold","baseline":"middle","dy":3,"color":"#000"},"encoding":{"y":{"field":"v","type":"quantitative","axis":{"title":null,"values":[0,20,40,60,80,100]}},"text":{"field":"s"}}}
]},
{"width":103,"height":100,"title":"FNECK","data":{"name":"c"},"transform":[{"filter":"datum.p=='FNECK'"}],
"encoding":{"x":{"field":"c","type":"nominal","scale":{"domain":["PDFF","MUFA","PUFA","SFA","UFAs","T2(ms)"],"paddingInner":0.15,"paddingOuter":0.25},"axis":{"title":null,"bandPosition":0.5}}},
"layer":[
{"mark":{"type":"rule","strokeDash":[2,1.5],"strokeWidth":1.2},"encoding":{"xOffset":{"field":"g","type":"nominal","scale":{"domain":["OP","GIO"],"paddingInner":0.25,"paddingOuter":0.1}},"y":{"field":"lo","type":"quantitative","scale":{"domain":[0,114],"nice":false},"axis":{"title":null,"values":[0,20,40,60,80,100]}},"y2":{"field":"hi"},"color":{"condition":{"test":"datum.g=='OP'","value":"#b50c27"},"value":"#f26b2a"}}},
{"mark":{"type":"bar","fillOpacity":0.8,"strokeWidth":1.2},"encoding":{"xOffset":{"field":"g","type":"nominal"},"y":{"field":"q1","type":"quantitative","axis":{"title":null,"values":[0,20,40,60,80,100]}},"y2":{"field":"q3"},"color":{"field":"g","type":"nominal","scale":{"domain":["OP","GIO"],"range":["#c60f2e","#fd8b3b"]},"legend":{"title":null}},"stroke":{"condition":{"test":"datum.g=='OP'","value":"#b50c27"},"value":"#f26b2a"}}},
{"mark":{"type":"point","filled":true,"shape":"circle","size":14,"fill":"#a0acba","stroke":"#5d6d7e","strokeWidth":0.6,"opacity":1},"encoding":{"xOffset":{"field":"g","type":"nominal"},"y":{"field":"md","type":"quantitative","axis":{"title":null,"values":[0,20,40,60,80,100]}}}},
{"data":{"name":"sc"},"transform":[{"filter":"datum.p=='FNECK'"}],"mark":{"type":"tick","size":13,"thickness":1,"color":"#000"},"encoding":{"y":{"field":"v","type":"quantitative","axis":{"title":null,"values":[0,20,40,60,80,100]}}}},
{"data":{"name":"sc"},"transform":[{"filter":"datum.p=='FNECK'"}],"mark":{"type":"text","fontSize":10,"fontWeight":"bold","baseline":"middle","dy":3,"color":"#000"},"encoding":{"y":{"field":"v","type":"quantitative","axis":{"title":null,"values":[0,20,40,60,80,100]}},"text":{"field":"s"}}}
]},
{"width":103,"height":100,"title":"FTRIANGLE","data":{"name":"c"},"transform":[{"filter":"datum.p=='FTRIANGLE'"}],
"encoding":{"x":{"field":"c","type":"nominal","scale":{"domain":["PDFF","MUFA","PUFA","SFA","UFAs","T2(ms)"],"paddingInner":0.15,"paddingOuter":0.25},"axis":{"title":null,"bandPosition":0.5}}},
"layer":[
{"mark":{"type":"rule","strokeDash":[2,1.5],"strokeWidth":1.2},"encoding":{"xOffset":{"field":"g","type":"nominal","scale":{"domain":["OP","GIO"],"paddingInner":0.25,"paddingOuter":0.1}},"y":{"field":"lo","type":"quantitative","scale":{"domain":[0,114],"nice":false},"axis":{"title":null,"values":[0,20,40,60,80,100]}},"y2":{"field":"hi"},"color":{"condition":{"test":"datum.g=='OP'","value":"#b50c27"},"value":"#f26b2a"}}},
{"mark":{"type":"bar","fillOpacity":0.8,"strokeWidth":1.2},"encoding":{"xOffset":{"field":"g","type":"nominal"},"y":{"field":"q1","type":"quantitative","axis":{"title":null,"values":[0,20,40,60,80,100]}},"y2":{"field":"q3"},"color":{"field":"g","type":"nominal","scale":{"domain":["OP","GIO"],"range":["#c60f2e","#fd8b3b"]},"legend":{"title":null}},"stroke":{"condition":{"test":"datum.g=='OP'","value":"#b50c27"},"value":"#f26b2a"}}},
{"mark":{"type":"point","filled":true,"shape":"circle","size":14,"fill":"#a0acba","stroke":"#5d6d7e","strokeWidth":0.6,"opacity":1},"encoding":{"xOffset":{"field":"g","type":"nominal"},"y":{"field":"md","type":"quantitative","axis":{"title":null,"values":[0,20,40,60,80,100]}}}},
{"data":{"name":"sc"},"transform":[{"filter":"datum.p=='FTRIANGLE'"}],"mark":{"type":"tick","size":13,"thickness":1,"color":"#000"},"encoding":{"y":{"field":"v","type":"quantitative","axis":{"title":null,"values":[0,20,40,60,80,100]}}}},
{"data":{"name":"sc"},"transform":[{"filter":"datum.p=='FTRIANGLE'"}],"mark":{"type":"text","fontSize":10,"fontWeight":"bold","baseline":"middle","dy":3,"color":"#000"},"encoding":{"y":{"field":"v","type":"quantitative","axis":{"title":null,"values":[0,20,40,60,80,100]}},"text":{"field":"s"}}}
]},
{"width":103,"height":100,"title":"GTROCH","data":{"name":"c"},"transform":[{"filter":"datum.p=='GTROCH'"}],
"encoding":{"x":{"field":"c","type":"nominal","scale":{"domain":["PDFF","MUFA","PUFA","SFA","UFAs","T2(ms)"],"paddingInner":0.15,"paddingOuter":0.25},"axis":{"title":null,"bandPosition":0.5}}},
"layer":[
{"mark":{"type":"rule","strokeDash":[2,1.5],"strokeWidth":1.2},"encoding":{"xOffset":{"field":"g","type":"nominal","scale":{"domain":["OP","GIO"],"paddingInner":0.25,"paddingOuter":0.1}},"y":{"field":"lo","type":"quantitative","scale":{"domain":[0,114],"nice":false},"axis":{"title":null,"values":[0,20,40,60,80,100]}},"y2":{"field":"hi"},"color":{"condition":{"test":"datum.g=='OP'","value":"#b50c27"},"value":"#f26b2a"}}},
{"mark":{"type":"bar","fillOpacity":0.8,"strokeWidth":1.2},"encoding":{"xOffset":{"field":"g","type":"nominal"},"y":{"field":"q1","type":"quantitative","axis":{"title":null,"values":[0,20,40,60,80,100]}},"y2":{"field":"q3"},"color":{"field":"g","type":"nominal","scale":{"domain":["OP","GIO"],"range":["#c60f2e","#fd8b3b"]},"legend":{"title":null}},"stroke":{"condition":{"test":"datum.g=='OP'","value":"#b50c27"},"value":"#f26b2a"}}},
{"mark":{"type":"point","filled":true,"shape":"circle","size":14,"fill":"#a0acba","stroke":"#5d6d7e","strokeWidth":0.6,"opacity":1},"encoding":{"xOffset":{"field":"g","type":"nominal"},"y":{"field":"md","type":"quantitative","axis":{"title":null,"values":[0,20,40,60,80,100]}}}}
]}
]}
]
}
